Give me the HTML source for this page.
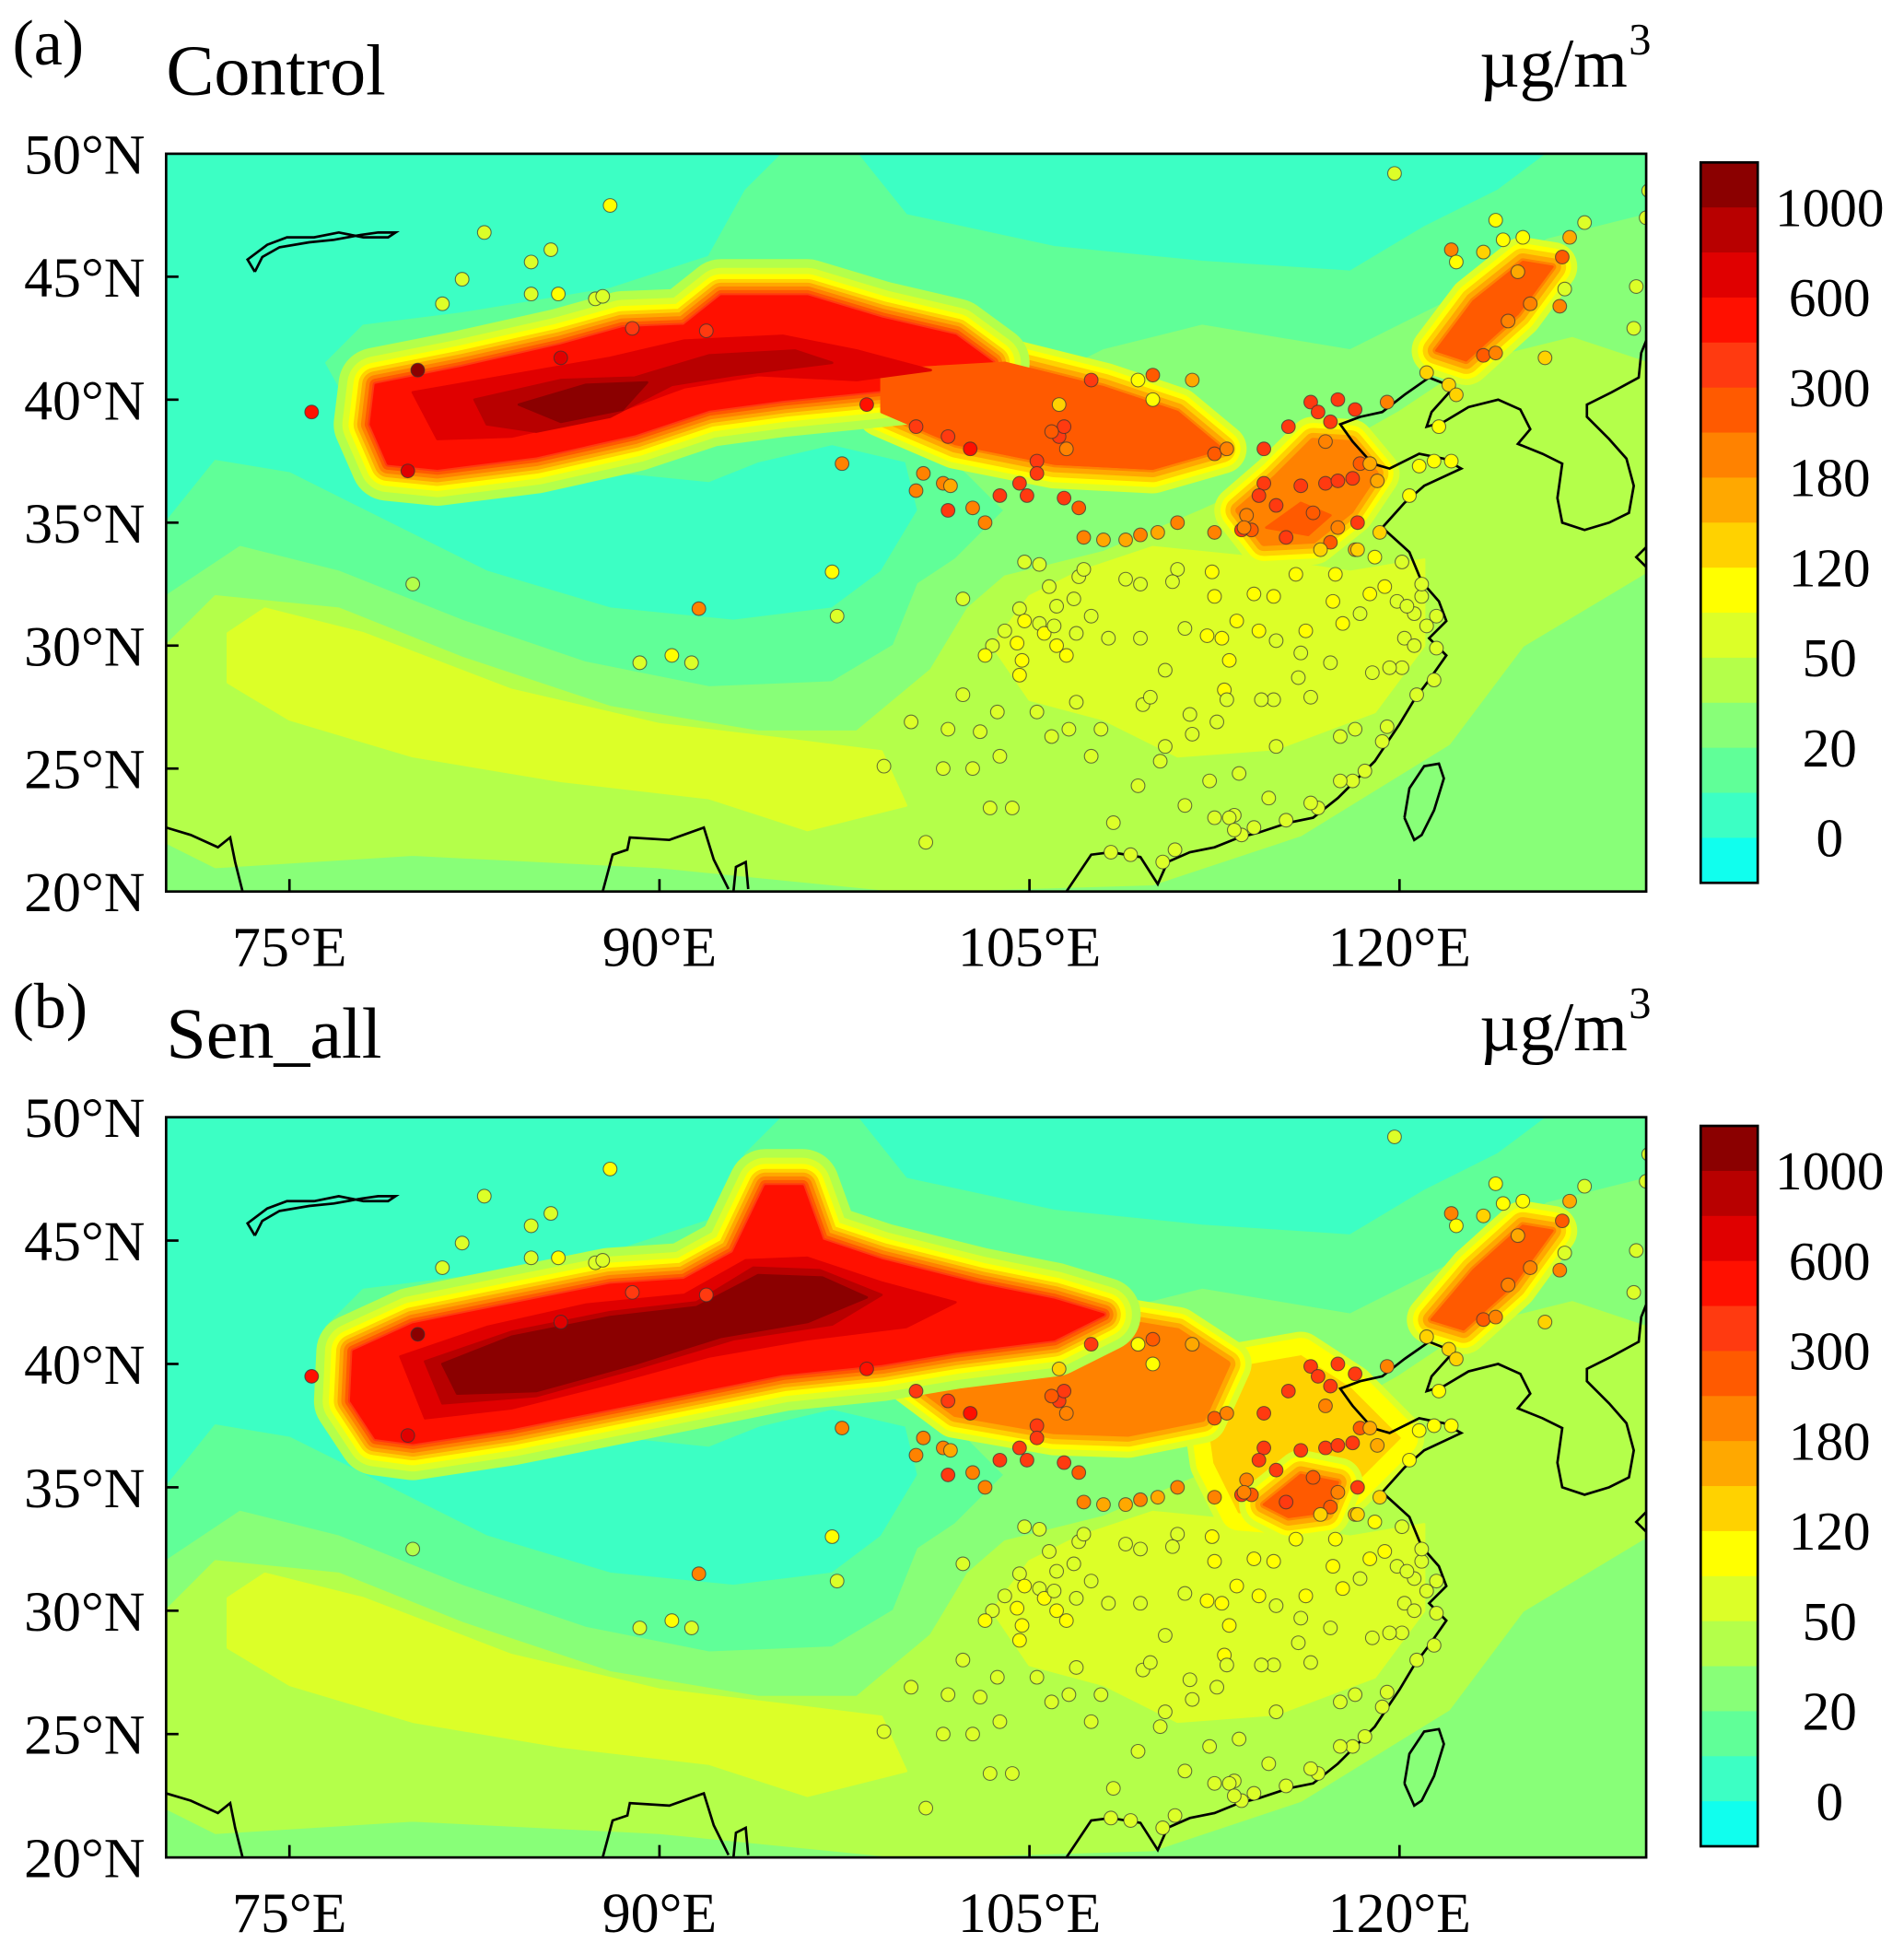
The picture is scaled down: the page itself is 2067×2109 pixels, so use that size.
<!DOCTYPE html>
<html><head><meta charset="utf-8"><style>
html,body{margin:0;padding:0;background:#fff;}
svg{display:block;}
text{font-family:"Liberation Serif",serif;fill:#000;}
</style></head><body>
<svg id="fig" xmlns="http://www.w3.org/2000/svg" width="2067" height="2109" viewBox="0 0 1536 1567" preserveAspectRatio="none"></svg>
<script>
// ---- data ----
const levelLabels = ["1000","600","300","180","120","50","20","0"];
const bandColors = ["#8b0000","#b80000","#e00000","#ff1000","#ff3a10","#ff5a00","#ff8200","#ffa800","#ffd200","#ffff00","#dcff28","#b4ff4a","#88ff78","#60ff98","#3cffc4","#10ffee"];
const bandEdges = [1000,800,600,450,300,240,180,150,120,85,50,35,20,10,0];
const panelLetters = ["(a)","(b)"];
const panelTitles = ["Control","Sen_all"];
const lonTicks = [75,90,105,120];
const latTicks = [20,25,30,35,40,45,50];

const stationLon = [75.9,80.2,79.8,80,81.2,82,82.9,84.8,84.8,85.6,85.9,86,87.4,87.7,88,88.9,91.9,90.5,91.3,89.2,91.6,97.2,97.0,97.4,98.4,100.4,101.7,102.6,100.7,100.4,101.5,101.8,101.7,102.7,103.2,103.8,104.9,104.6,105.3,105.3,106.2,106.4,105.9,106.5,107.5,106.2,109.4,110,111.6,110,106.4,107,107.2,108.9,109.5,110.2,111,
112.5,113,114.5,115.5,116.4,117.2,116.7,117.5,118.2,119.5,114.5,115,116,117,117.5,118.1,118.4,116.5,117.5,118.3,117.2,118.2,119.2,115.4,114,113.6,112.5,113.8,114.3,117,118.8,120.4,121.4,122.1,119.1,120.8,
121.6,122,121.1,123.4,123.9,122.3,124.4,125.3,126.6,126.5,124.8,125.9,123.9,124.2,126.9,122.1,129.6,129.5,130,127.5,119.8,125,123.4,126.7,130.1,122.3,
104,104.5,104.6,104.7,104.8,105.4,105.6,106.5,106,106.9,106.1,107.5,106.8,105.8,107,108.9,109.5,111.3,112.2,114.3,113.4,115,116.2,117.3,117.7,118.4,119.9,120.6,121.5,120.3,119.4,118.8,120.9,121.1,120.2,120.6,121.5,120.1,119.6,118.9,121.4,120.7,119.3,118.6,118.1,117.6,119.5,116.7,114.1,113.3,113.1,112.5,113.6,113.3,110.4,110.3,108.4,109.4,111.3,112.9,113,112.6,111.5,110.5,115.9,116.4,114.9,114.4,115,117.2,116,113.1,114.9,114.1,112.5,115.8,116.8,117.4,118.3,119,120.1,120.9,113.7,112.4,111,110.8,106.6,107.5,106.9,104.6,102.7,103.8,103,100.2,99.1,100.8,103.4,104.3,101.5,102.3,103.7,101.7,105.3,105.9,107.9,109.6,110.5,111.6,117.6,118.2,112.3,108.3,109.1,110.9,113.5,114.7,115.4,116.4,112.8,109.9,108.2,109.5,106.1,108,107.2,105.4,104.8,103.5,103.2,102.3];
const stationLat = [39.5,41.2,37.1,32.5,43.9,44.9,46.8,44.3,45.6,46.1,44.3,41.7,44.1,44.2,47.9,42.9,42.8,29.6,29.3,29.3,31.5,31.2,33.0,37.4,39.8,38.9,38.5,38.0,37,36.3,36.6,36.5,35.5,35.6,35,36.1,36.1,36.6,37.5,37,38.5,38.9,38.7,38.0,40.8,39.8,40.8,41.0,40.8,40.0,36,35.6,34.4,34.3,34.5,34.6,35,
37.8,38,38,38.9,39.9,39.1,39.5,40,39.6,39.9,36.6,35.7,36.5,36.6,36.7,36.8,37.4,35.4,34.8,35,34.2,33.9,34.6,34.4,34.7,34.7,34.6,35.3,36.1,38.3,37.4,36.1,37.5,37.5,36.7,37.3,
38.9,40.6,41.1,41.8,41.9,40.2,43.2,43.9,45.8,43.8,45.2,41.7,47.3,46.5,46.6,46.1,44.6,42.9,47.4,47.2,49.2,46.6,46,44.5,48.5,45.6,
30.6,30.1,31.5,29.4,31,30.9,30.5,29.6,30.8,30.5,30,31.2,31.9,32.4,32.8,32.7,32.5,30.7,30.4,30.6,31,30.2,30.6,31.8,30.9,31.3,31.8,31.3,31.2,31.6,32.4,32.1,32,30.8,30.3,30,29.9,29.1,29.1,28.9,28.6,28,26.1,24.9,24.5,24.5,26.7,23.4,22.6,23.1,23,23,22.3,22.5,21.2,25.3,22.8,24.3,23.5,28.2,27.8,26.9,27.2,29,28.7,27.9,27.8,27.8,25.9,29.3,29.7,29.4,32,32.1,32,32.9,33.9,32.9,33.9,33.6,33.4,32.5,34.8,33,33.1,32.6,26.6,25.5,27.7,28.8,25,25.5,26.5,26.9,25.1,22,23.4,23.4,25,28,27.3,26.6,27.3,26.3,26.6,27.6,25.9,26.4,26.3,26.6,24.5,21.6,21.5,21.7,24.8,23.8,22.9,23.6,30.3,27.9,30.3,30.3,31.6,34.3,33.1,33.3,33.4,30,29.6,31.9];
const stationVal = [500,1000,700,40,60,80,80,60,70,60,90,600,60,60,100,400,300,90,60,70,180,60,100,200,500,400,400,500,180,200,200,160,300,180,200,400,400,350,400,400,300,300,280,180,300,120,100,250,150,100,350,250,200,150,200,150,180,
250,180,300,300,400,350,400,300,300,200,400,350,300,400,350,300,250,250,200,300,250,150,120,300,250,300,200,180,300,180,150,100,90,90,150,100,
100,120,120,250,200,130,200,220,250,200,150,120,100,100,150,200,70,70,60,80,80,100,120,70,60,100,
80,90,70,100,90,80,90,90,80,80,90,80,70,70,70,80,80,80,90,90,100,80,100,100,90,80,80,70,70,80,90,90,70,60,60,60,60,60,60,60,60,60,60,50,50,50,50,50,50,60,60,50,50,50,50,60,60,60,60,90,80,70,70,80,80,80,80,70,60,80,80,90,90,100,100,100,120,100,120,90,80,80,200,100,80,80,80,70,70,90,60,60,50,60,50,50,60,50,70,60,60,70,60,60,70,80,70,70,60,60,60,50,50,50,60,60,50,50,90,70,80,80,80,150,80,70,60,80,90,60];

// coastlines (lon/lat)
const coastChina = [[106.5,20],[107.5,21.5],[108.3,21.6],[109.5,21.4],[110.2,20.3],[110.6,21.2],[111.5,21.6],[112.5,21.8],[113.5,22.2],[114.3,22.4],[115.5,22.8],[116.5,23],[117.5,23.8],[118.3,24.6],[119,25.3],[119.6,26.2],[120,26.8],[120.6,27.8],[121.2,28.6],[121.9,29.6],[121.2,30.3],[121.9,31],[121.6,31.8],[120.9,32.6],[120.4,33.8],[119.3,34.8],[120.2,35.8],[121,36.5],[122.5,37.2],[121.8,37.6],[120.8,37.8],[119.6,37.2],[118.9,37.4],[118.1,38.3],[117.6,39],[118.4,39.3],[119.3,39.5],[120.2,40.2],[121.2,40.9],[122.2,40.5],[121.3,39.5],[121.1,38.9],[121.8,39.1],[122.8,39.7],[124,40],[124.9,39.6],[125.3,38.8],[124.8,38.2],[125.8,37.8],[126.6,37.4],[126.4,36],[126.6,35],[127.5,34.7],[128.5,35],[129.3,35.4],[129.5,36.5],[129.2,37.6],[128.5,38.4],[127.6,39.3],[127.6,39.8],[128.6,40.3],[129.7,40.9],[129.8,41.9],[130,42.4]];
const coastTaiwan = [[120.2,23],[120.6,22.1],[120.9,22.3],[121.4,23.3],[121.8,24.6],[121.6,25.2],[121,25.1],[120.4,24.2],[120.2,23]];
const coastLake = [[73.6,45.2],[73.3,45.7],[74.1,46.3],[74.9,46.6],[76,46.6],[77,46.8],[78,46.6],[79,46.6],[79.3,46.8],[78.6,46.8],[77.9,46.7],[76.8,46.5],[75.8,46.4],[74.6,46.2],[73.9,45.8],[73.6,45.2]];
const coastIndia = [[70,22.6],[71,22.3],[72.1,21.8],[72.6,22.2],[72.8,21.2],[73.1,20]];
const coastBengal = [[87.7,20],[88.1,21.5],[88.7,21.7],[88.8,22.2],[90.4,22.1],[91.8,22.6],[92.2,21.3],[92.8,20.1]];
const coastMyanmar = [[93,20],[93.1,21],[93.5,21.2],[93.6,20.1]];
const coastJapan = [[130,33.2],[129.6,33.6],[130,34]];

// field polygons (lon/lat) shared base
const baseGreen1 = [[70,20],[70,35],[72,37.5],[75,37],[78,35.5],[83,33],[88,31.5],[93,31],[97,31.5],[99,33],[100.5,35.5],[100,37.5],[97,38.2],[94,37.5],[92,36.7],[89,37],[85,37.2],[81,36.5],[78,38.8],[76.5,41.5],[78,43],[82,43.5],[88,44.5],[92,45.8],[93.5,48.5],[95,50],[98,50],[100,47.5],[106,46.2],[112,45.6],[118,45.2],[121,47],[124,48.5],[126,50],[130,50],[130,20]];
const baseGreen2 = [[70,20],[70,32],[73,34],[77,33],[82,31],[87,29.3],[92,28.3],[97,28.5],[99.5,30],[100.5,32.5],[102,33.5],[104,35.5],[102.5,37],[101,38.3],[104,40],[108,42],[112,43],[118,42],[122,44],[126,46.5],[130,47.5],[130,20]];
const baseGreen3 = [[72,21],[70,22],[70,30],[72,32],[77,31.5],[82,29.5],[88,27.5],[94,26.5],[98,26.5],[101,29],[102.5,31.5],[104,32.8],[108,33.8],[112,35.5],[117,37.8],[120,39.5],[123,41.5],[127,42.5],[130,41.5],[130,33],[125,30],[122,26],[116,22.3],[110,20.3],[100,20],[90,21],[80,21.5]];
const baseYellow1 = [[72.5,30.5],[74,31.5],[78,30.5],[84,28.2],[90,26.8],[95,26.2],[99,25.7],[100,23.5],[96,22.5],[92,23.8],[86,24.5],[80,25.5],[75,27],[72.5,28.5]];
const baseYellow2 = [[103.5,30],[105,32],[107,33],[110,34],[114,33.6],[118,33],[121,33.5],[121,30],[119,27.3],[115,25.8],[111,25.5],[108,27],[105,27.8]];

// panel (a) plume polygons
const aPlume = [[78.5,40.6],[82,41.3],[86,42.2],[88.5,42.9],[91,43],[92.5,44.2],[96,44.2],[99,43.3],[102,42.6],[103.5,41.5],[101,40.6],[98,40.3],[95,40],[92,39.6],[89,38.6],[85,37.7],[81,37.2],[79,37.4],[78.3,39]];
const aEast = [[99,41.2],[104,41.5],[108,40.5],[111,39.5],[112.8,38],[110,37.2],[106,37.4],[102,38.2],[99,39.5]];
const aCore1 = [[80,40.3],[84,41],[88,41.7],[91,42.4],[95,42.6],[98,42],[101,41.2],[98,40.8],[94,41],[91,40.5],[88,39.4],[84,38.5],[81,38.4]];
const aCore2 = [[82.5,40],[86,40.8],[89,40.9],[92,41.8],[95.5,42],[97,41.5],[93,41],[90.5,40.6],[88,39.3],[85,38.7],[83,39]];
const aCore3 = [[84.3,39.8],[87,40.6],[89.5,40.7],[88.5,39.6],[86,39.1]];
const aNcp = [[113.5,35.5],[115,36.8],[116.5,38.3],[118,38.2],[119,37],[118,35.5],[116.5,34.3],[114.5,34.2]];
const aNcpCore = [[114.6,34.8],[116,35.8],[117.2,35.3],[116.3,34.5]];
const aNe = [[121.5,42],[123,44],[125,45.6],[126.2,45.4],[124.8,43.5],[122.7,41.6]];

// panel (b) plume polygons
const bPlume = [[77.6,40.5],[80,41.6],[84,42.4],[88,43.2],[91,43.4],[93,44.5],[94.3,47.2],[95.8,47.2],[96.6,45],[99,44.2],[103,43.2],[106,42.6],[108,42],[106,41],[102,40.5],[99,40],[95,39.6],[92,39],[88,38.2],[84,37.4],[80,36.8],[78.5,37],[77.5,38.5]];
const bEast = [[104,41.5],[108,41.8],[111,41.3],[113,40],[112,37.8],[109,37.2],[106,37.3],[102,38],[100,39.5]];
const bEast2 = [[112,39.6],[116,40.3],[118,39],[120,37],[118,35],[116,33.8],[113.5,34],[112.5,36]];
const bCore1 = [[79.5,40.3],[83,41.5],[87,42.4],[91,42.8],[93.5,44.2],[96,44.3],[99,43.3],[102,42.5],[100,41.5],[96,41],[92,40.3],[88,39.2],[84,38.2],[80.5,37.8]];
const bCore2 = [[80.5,40.1],[84,41.3],[88,42.1],[91.5,42.5],[93.8,43.9],[96.5,43.8],[99,42.8],[97,41.6],[93,41],[89,39.8],[85,38.7],[81.2,38.4]];
const bCore3 = [[81.2,40],[84,41.1],[88,41.9],[91.5,42.3],[94,43.6],[96.6,43.5],[98.4,42.7],[96,41.7],[92.5,41.1],[89,40],[85,38.9],[81.8,38.8]];
const bNcp = [[114.5,34.3],[116,35.5],[117.5,35.2],[117,34],[115.5,33.8]];
const bNe = [[121.3,41.8],[123,43.8],[125,45.6],[126.2,45.4],[124.6,43.2],[122.6,41.4]];

// ---- geometry ----
const X0 = 134, X1 = 1328, LON0 = 70, LON1 = 130, LAT0 = 20, LAT1 = 50;
const panels = [{y0:124,y1:719,cb0:131,cb1:712},{y0:901,y1:1498,cb0:908,cb1:1489}];
const NS = "http://www.w3.org/2000/svg";
const svg = document.getElementById('fig');
function px(lon){ return X0 + (lon-LON0)/(LON1-LON0)*(X1-X0); }
function py(lat,p){ return p.y1 - (lat-LAT0)/(LAT1-LAT0)*(p.y1-p.y0); }
function mk(tag, attrs, parent){ const e=document.createElementNS(NS,tag); for(const k in attrs) e.setAttribute(k,attrs[k]); (parent||svg).appendChild(e); return e; }
function pathOf(pts,p,close){ return pts.map((q,i)=>(i?'L':'M')+px(q[0]).toFixed(1)+','+py(q[1],p).toFixed(1)).join(' ')+(close?' Z':''); }
function colorOf(v){ if(v>=1000) return bandColors[0]; for(let i=1;i<bandEdges.length;i++){ if(v>=bandEdges[i]) return bandColors[i]; } return bandColors[15]; }

const haloFull = [["#b4ff4a",60],["#dcff28",46],["#ffff00",36],["#ffd200",28],["#ffa800",22],["#ff8200",16],["#ff5a00",10],["#ff3a10",5]];
const haloOrange = [["#dcff28",40],["#ffff00",30],["#ffd200",22],["#ffa800",14],["#ff8200",6]];

function drawLayer(g,pts,p,fill,rings,name){
  if(rings){ rings.forEach(r=>{
    const e=mk('path',{d:pathOf(pts,p,true),fill:r[0],stroke:r[0],'stroke-width':r[1],'stroke-linejoin':'round'},g);
    
    
  }); }
  const e=mk('path',{d:pathOf(pts,p,true),fill:fill,stroke:fill,'stroke-width':2,'stroke-linejoin':'round'},g);
  
  
}

panels.forEach((p,pi)=>{
  const defs=mk('defs',{});
  const cp=mk('clipPath',{id:'clip'+pi},defs);
  mk('rect',{x:X0,y:p.y0,width:X1-X0,height:p.y1-p.y0},cp);
  const g=mk('g',{'clip-path':'url(#clip'+pi+')'});
  
  
  const bg=mk('rect',{x:X0,y:p.y0,width:X1-X0,height:p.y1-p.y0,fill:'#3cffc4'},g);
  
  
  drawLayer(g,baseGreen1,p,'#60ff98',null,'field-green-low');
  drawLayer(g,baseGreen2,p,'#88ff78',null,'field-green');
  drawLayer(g,baseGreen3,p,'#b4ff4a',null,'field-yellow-green');
  drawLayer(g,baseYellow1,p,'#dcff28',null,'field-south-band');
  drawLayer(g,baseYellow2,p,'#dcff28',null,'field-east-china');
  if(pi===0){
    drawLayer(g,aEast,p,'#ff5a00',haloOrange,'field-plume-east');
    drawLayer(g,aNcp,p,'#ff8200',haloOrange,'field-ncp');
    drawLayer(g,aNcpCore,p,'#ff5a00',null,'field-ncp-core');
    drawLayer(g,aNe,p,'#ff5a00',haloOrange,'field-northeast');
    drawLayer(g,aPlume,p,'#ff1000',haloFull,'field-plume');
    drawLayer(g,aEast,p,'#ff5a00',null,'field-plume-east-core');
    drawLayer(g,aCore1,p,'#e00000',null,'field-plume-core1');
    drawLayer(g,aCore2,p,'#b80000',null,'field-plume-core2');
    drawLayer(g,aCore3,p,'#8b0000',null,'field-plume-core3');
  } else {
    drawLayer(g,bEast2,p,'#ffd200',haloOrange.slice(0,2),'field-east-orange');
    drawLayer(g,bEast,p,'#ff8200',haloOrange,'field-plume-east');
    drawLayer(g,bNcp,p,'#ff5a00',haloOrange,'field-ncp');
    drawLayer(g,bNe,p,'#ff5a00',haloOrange,'field-northeast');
    drawLayer(g,bPlume,p,'#ff1000',haloFull,'field-plume');
    drawLayer(g,bCore1,p,'#e00000',null,'field-plume-core1');
    drawLayer(g,bCore2,p,'#b80000',null,'field-plume-core2');
    drawLayer(g,bCore3,p,'#8b0000',null,'field-plume-core3');
  }
  [coastChina,coastTaiwan,coastLake,coastIndia,coastBengal,coastMyanmar,coastJapan].forEach((c,ci)=>{
    const e=mk('path',{d:pathOf(c,p,false),fill:'none',stroke:'#000','stroke-width':2},g);
    
    
  });
  for(let i=0;i<stationLon.length;i++){
    const c=mk('circle',{cx:px(stationLon[i]).toFixed(1),cy:py(stationLat[i],p).toFixed(1),r:5.5,fill:colorOf(stationVal[i]),stroke:'#333','stroke-width':0.8,'stroke-opacity':0.7},g);
    
    
  }
  const fr=mk('rect',{x:X0,y:p.y0,width:X1-X0,height:p.y1-p.y0,fill:'none',stroke:'#000','stroke-width':2});
  
  
  latTicks.forEach(t=>{
    const y=py(t,p);
    if(t>LAT0 && t<LAT1){
      const tk=mk('line',{x1:X0,x2:X0+10,y1:y,y2:y,stroke:'#000','stroke-width':2});
      
      
    }
    const tx=mk('text',{x:117,y:y+16,'text-anchor':'end','font-size':46});
    tx.textContent=t+'°N';
    
    
  });
  lonTicks.forEach(t=>{
    const x=px(t);
    const tk=mk('line',{x1:x,x2:x,y1:p.y1,y2:p.y1-10,stroke:'#000','stroke-width':2});
    
    
    const tx=mk('text',{x:x,y:p.y1+60,'text-anchor':'middle','font-size':46});
    tx.textContent=t+'°E';
    
    
  });
  const lt=mk('text',{x:10,y:p.y0-72,'font-size':52});
  lt.textContent=panelLetters[pi];
  
  
  const tt=mk('text',{x:134,y:p.y0-48,'font-size':58});
  tt.textContent=panelTitles[pi];
  
  
  const ut=mk('text',{x:1313,y:p.y0-54,'text-anchor':'end','font-size':56});
  ut.textContent='µg/m';
  
  
  const us=mk('text',{x:1314,y:p.y0-80,'font-size':36});
  us.textContent='3';
  
  
  // colorbar
  const n=bandColors.length, h=(p.cb1-p.cb0)/n;
  bandColors.forEach((col,i)=>{
    const r=mk('rect',{x:1372,y:(p.cb0+i*h).toFixed(2),width:46,height:(h+0.6).toFixed(2),fill:col});
    
    
  });
  const cbf=mk('rect',{x:1372,y:p.cb0,width:46,height:p.cb1-p.cb0,fill:'none',stroke:'#000','stroke-width':2});
  
  
  levelLabels.forEach((lab,i)=>{
    const y=p.cb0+(1+2*i)*h;
    const tx=mk('text',{x:1476,y:y+15,'text-anchor':'middle','font-size':44});
    tx.textContent=lab;
    
    
  });
});
</script>
</body></html>
